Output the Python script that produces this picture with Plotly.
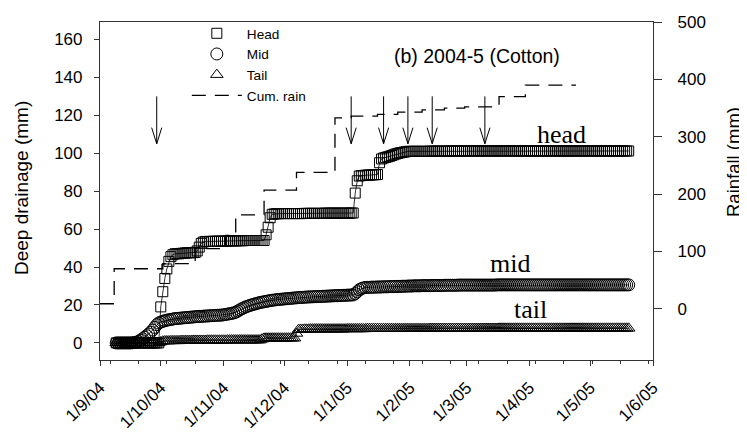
import pandas as pd
import plotly.graph_objects as go

# ---------------- data ----------------
start_day = "2004-09-09"
end_day = "2005-05-20"

head = [
    # Sep 9-30
    0, 0, 0, 0, 0, 0, 0, 0, 0, 0, 0, 0, 0, 0, 0, 0, 0, 0, 0, 0, 0, 0,
    # Oct
    19, 27, 34, 39, 43, 45.5, 46.5, 47, 47, 47, 47.2, 47.3, 47.4, 47.5, 47.5, 47.6,
    47.6, 47.7, 48.5, 50.5, 52.5, 53.2, 53.5, 53.5, 53.5, 53.5, 53.6, 53.6, 53.6, 53.6, 53.6,
    # Nov
    53.7, 53.7, 53.7, 53.8, 53.8, 53.8, 53.8, 53.9, 53.9, 53.9, 53.9, 54, 54, 54, 54,
    54, 54, 54, 54, 54, 54, 57, 61, 66, 67.8, 68, 68.1, 68.1, 68.2, 68.2,
    # Dec
    68.2, 68.2, 68.2, 68.2, 68.2, 68.2, 68.2, 68.2, 68.2, 68.2, 68.3, 68.3, 68.3, 68.3, 68.3, 68.3,
    68.3, 68.3, 68.3, 68.3, 68.4, 68.4, 68.4, 68.4, 68.4, 68.4, 68.4, 68.4, 68.4, 68.4, 68.4,
    # Jan
    68.4, 68.4, 68.5, 68.5, 79, 85.5, 88, 88.2, 88.3, 88.4, 88.5, 88.5, 88.6, 88.6, 88.7, 88.8,
    95, 97, 97.5, 97.8, 98.1, 98.4, 98.8, 99.2, 99.6, 99.9, 100.2, 100.4, 100.6, 100.8, 101.0,
    # Feb
    101.0, 101.0, 101.0, 101.0, 101.0, 101.0, 101.0, 101.0, 101.0, 101.0, 101.1, 101.1, 101.1, 101.1,
    101.1, 101.1, 101.1, 101.1, 101.1, 101.1, 101.2, 101.2, 101.2, 101.2, 101.2, 101.2, 101.2, 101.2,
    # Mar
    101.2, 101.2, 101.2, 101.2, 101.2, 101.2, 101.2, 101.2, 101.2, 101.2, 101.2, 101.2, 101.2, 101.2,
    101.2, 101.2, 101.2, 101.2, 101.2, 101.2, 101.2, 101.2, 101.2, 101.2, 101.2, 101.2, 101.2, 101.2,
    101.2, 101.2, 101.2,
    # Apr
    101.2, 101.2, 101.2, 101.2, 101.2, 101.2, 101.2, 101.2, 101.2, 101.2, 101.2, 101.2, 101.2, 101.2, 101.2,
    101.2, 101.2, 101.2, 101.2, 101.2, 101.2, 101.2, 101.2, 101.2, 101.2, 101.2, 101.2, 101.2, 101.2, 101.2,
    # May 1-20
    101.2, 101.2, 101.2, 101.2, 101.2, 101.2, 101.2, 101.2, 101.2, 101.2,
    101.2, 101.2, 101.2, 101.2, 101.2, 101.2, 101.2, 101.2, 101.2, 101.2,
]

mid = [
    # Sep 9-30
    0, 0, 0, 0, 0, 0, 0, 0, 0.1, 0.2, 0.4, 0.8, 1.5, 2.2, 3.0, 3.8, 4.7, 5.6, 6.8, 8.2, 9.6, 10.5,
    # Oct
    11.0, 11.4, 11.7, 12.0, 12.2, 12.4, 12.6, 12.8, 12.9, 13.0, 13.1, 13.2, 13.3, 13.4, 13.5, 13.6,
    13.7, 13.8, 13.9, 14.0, 14.0, 14.1, 14.2, 14.2, 14.3, 14.4, 14.4, 14.5, 14.6, 14.6, 14.7,
    # Nov
    14.8, 15.0, 15.2, 15.4, 15.6, 15.8, 16.2, 16.8, 17.4, 18.0, 18.5, 19.0, 19.4, 19.8, 20.1,
    20.4, 20.7, 21.0, 21.3, 21.5, 21.7, 21.9, 22.1, 22.3, 22.5, 22.6, 22.8, 22.9, 23.0, 23.1,
    # Dec
    23.2, 23.3, 23.4, 23.5, 23.6, 23.7, 23.8, 23.9, 24.0, 24.0, 24.1, 24.2, 24.2, 24.3, 24.3, 24.4,
    24.4, 24.5, 24.5, 24.6, 24.6, 24.7, 24.7, 24.8, 24.8, 24.9, 24.9, 25.0, 25.0, 25.1, 25.1,
    # Jan
    25.2, 25.2, 25.3, 25.3, 26.0, 27.0, 28.0, 28.6, 29.0, 29.2, 29.3, 29.3, 29.4, 29.4, 29.4, 29.5,
    29.5, 29.5, 29.6, 29.6, 29.6, 29.7, 29.7, 29.7, 29.8, 29.8, 29.8, 29.9, 29.9, 29.9, 30.0,
    # Feb
    30.0, 30.0, 30.1, 30.1, 30.1, 30.1, 30.2, 30.2, 30.2, 30.2, 30.2, 30.3, 30.3, 30.3,
    30.3, 30.3, 30.3, 30.4, 30.4, 30.4, 30.4, 30.4, 30.4, 30.4, 30.5, 30.5, 30.5, 30.5,
    # Mar
    30.5, 30.5, 30.5, 30.5, 30.5, 30.5, 30.5, 30.5, 30.5, 30.5, 30.5, 30.5, 30.5, 30.5, 30.5,
    30.6, 30.6, 30.6, 30.6, 30.6, 30.6, 30.6, 30.6, 30.6, 30.6, 30.6, 30.6, 30.6, 30.6, 30.6, 30.6,
    # Apr
    30.6, 30.6, 30.6, 30.6, 30.6, 30.6, 30.6, 30.6, 30.6, 30.6, 30.6, 30.6, 30.6, 30.6, 30.6,
    30.6, 30.6, 30.6, 30.6, 30.6, 30.6, 30.6, 30.6, 30.6, 30.6, 30.6, 30.6, 30.6, 30.6, 30.6,
    # May 1-20
    30.6, 30.6, 30.6, 30.6, 30.6, 30.6, 30.6, 30.6, 30.6, 30.6,
    30.6, 30.6, 30.6, 30.6, 30.6, 30.6, 30.6, 30.6, 30.6, 30.6,
]

tail = [
    # Sep 9-30
    0, 0, 0, 0, 0, 0, 0, 0, 0, 0, 0, 0, 0, 0, 0, 0, 0, 0, 0, 0, 0, 0,
    # Oct
    0.5, 0.9, 1.0, 1.0, 1.0, 1.1, 1.1, 1.1, 1.1, 1.1, 1.2, 1.2, 1.2, 1.2, 1.2, 1.2,
    1.3, 1.3, 1.3, 1.3, 1.3, 1.3, 1.3, 1.4, 1.4, 1.4, 1.4, 1.4, 1.4, 1.4, 1.4,
    # Nov
    1.4, 1.4, 1.5, 1.5, 1.5, 1.5, 1.5, 1.5, 1.5, 1.5, 1.5, 1.5, 1.5, 1.5, 1.5,
    1.5, 1.5, 1.5, 1.5, 2.0, 2.4, 2.5, 2.5, 2.5, 2.5, 2.5, 2.5, 2.5, 2.5, 2.5,
    # Dec
    2.5, 2.5, 2.5, 2.5, 2.5, 2.5, 5.0, 7.0, 7.1, 7.1, 7.2, 7.2, 7.2, 7.3, 7.3, 7.3,
    7.3, 7.3, 7.3, 7.3, 7.3, 7.3, 7.3, 7.3, 7.3, 7.3, 7.3, 7.3, 7.3, 7.3, 7.3,
    # Jan
    7.4, 7.4, 7.4, 7.4, 7.4, 7.4, 7.4, 7.4, 7.4, 7.4, 7.5, 7.5, 7.5, 7.5, 7.5, 7.5,
    7.5, 7.5, 7.5, 7.5, 7.5, 7.5, 7.5, 7.5, 7.5, 7.5, 7.5, 7.5, 7.5, 7.5, 7.5,
    # Feb
    7.5, 7.5, 7.5, 7.5, 7.5, 7.5, 7.5, 7.5, 7.5, 7.5, 7.6, 7.6, 7.6, 7.6,
    7.6, 7.6, 7.6, 7.6, 7.6, 7.6, 7.6, 7.6, 7.6, 7.6, 7.6, 7.6, 7.6, 7.6,
    # Mar
    7.6, 7.6, 7.6, 7.6, 7.6, 7.6, 7.6, 7.6, 7.6, 7.6, 7.6, 7.6, 7.6, 7.6, 7.6, 7.6,
    7.7, 7.7, 7.7, 7.7, 7.7, 7.7, 7.7, 7.7, 7.7, 7.7, 7.7, 7.7, 7.7, 7.7, 7.7,
    # Apr
    7.7, 7.7, 7.7, 7.7, 7.7, 7.7, 7.7, 7.7, 7.7, 7.7, 7.7, 7.7, 7.7, 7.7, 7.7,
    7.7, 7.7, 7.7, 7.7, 7.7, 7.7, 7.7, 7.7, 7.7, 7.7, 7.7, 7.7, 7.7, 7.7, 7.7,
    # May 1-20
    7.7, 7.7, 7.7, 7.7, 7.7, 7.7, 7.7, 7.7, 7.7, 7.7,
    7.7, 7.7, 7.7, 7.7, 7.7, 7.7, 7.7, 7.7, 7.7, 7.7,
]

rain_dates = ["2004-09-01", "2004-09-08", "2004-10-02", "2004-10-18", "2004-11-02",
              "2004-11-07", "2004-11-21", "2004-12-07", "2004-12-26", "2005-01-03",
              "2005-01-16", "2005-01-26", "2005-02-07", "2005-02-18", "2005-02-28",
              "2005-03-17", "2005-03-30", "2005-04-24"]
rain_cum = [9, 70, 79, 105, 128, 164, 207, 238, 333, 336, 339, 343, 347, 350, 352, 370, 390, 390]

irrigation_dates = ["2004-09-29", "2005-01-03", "2005-01-19", "2005-01-31", "2005-02-12", "2005-03-10"]
arrow_top = 130
arrow_bottom = 105

x_range = ["2004-09-01", "2005-06-01"]
y_range = [-9.0, 169.2]
y2_range = [-89, 500]

# ---------------- figure ----------------
days = pd.date_range(start_day, end_day, freq="D")
assert len(days) == len(head) == len(mid) == len(tail)

FONT = "Liberation Sans, Arial, sans-serif"
SERIF = "Liberation Serif, Times New Roman, serif"
AX = "#333333"

fig = go.Figure()

series = [
    ("Head", head, "square-open", 10),
    ("Mid", mid, "circle-open", 12),
    ("Tail", tail, "triangle-up-open", 11),
]
for name, vals, sym, size in series:
    fig.add_trace(go.Scatter(x=days, y=vals, mode="lines", line=dict(color="black", width=0.8),
                             showlegend=False, hoverinfo="skip"))
    fig.add_trace(go.Scatter(x=days, y=vals, mode="markers", name=name,
                             marker=dict(symbol=sym, size=size, color="black",
                                         line=dict(color="black", width=1.0))))

fig.add_trace(go.Scatter(x=pd.to_datetime(rain_dates), y=rain_cum, mode="lines", name="Cum. rain",
                         yaxis="y2", line=dict(color="black", width=1.3, dash="14px,9px", shape="hv")))

# irrigation arrows (shaft + open V head)
half = pd.Timedelta(hours=60)
head_len = 8.5
ax_x, ax_y = [], []
for d in pd.to_datetime(irrigation_dates):
    ax_x += [d, d, None, d - half, d, d + half, None]
    ax_y += [arrow_top, arrow_bottom, None, arrow_bottom + head_len, arrow_bottom,
             arrow_bottom + head_len, None]
fig.add_trace(go.Scatter(x=ax_x, y=ax_y, mode="lines", line=dict(color="black", width=1),
                         showlegend=False, hoverinfo="skip"))


def label(text, x, y, family, size, angle=0):
    return dict(text=text, x=x, y=y, xref="paper", yref="paper", xanchor="center",
                yanchor="middle", textangle=angle, showarrow=False,
                font=dict(family=family, size=size, color="black"))


annotations = [
    label("(b) 2004-5 (Cotton)", 0.6826, 0.898, FONT, 19.5),
    label("head", 0.8349, 0.6658, SERIF, 26),
    label("mid", 0.7414, 0.2857, SERIF, 26),
    label("tail", 0.7776, 0.1482, SERIF, 26),
    label("Deep drainage (mm)", -0.141, 0.509, FONT, 19, -90),
    label("Rainfall (mm)", 1.146, 0.585, FONT, 18.5, -90),
]

# the page body adds an 8px offset, so the figure is 8px smaller and margins shifted
fig.update_layout(
    template="none",
    width=739, height=427,
    margin=dict(l=92, r=94, t=10, b=75, pad=0),
    paper_bgcolor="white", plot_bgcolor="white",
    font=dict(family=FONT, size=17, color="black"),
    showlegend=True,
    legend=dict(x=0.157, y=1.012, xanchor="left", yanchor="top", bgcolor="rgba(0,0,0,0)",
                font=dict(family=FONT, size=13.6, color="black"), itemwidth=50,
                tracegroupgap=0, borderwidth=0),
    annotations=annotations,
    xaxis=dict(type="date", range=x_range, tick0="2004-09-01", dtick="M1", automargin=False,
               tickformat="%-d/%-m/%y", tickangle=-45, ticks="outside", ticklen=5,
               tickcolor=AX, showline=True, linecolor=AX, linewidth=1.2, mirror=True,
               showgrid=False, zeroline=False, tickfont=dict(size=17), ticklabelstandoff=5,
               minor=dict(dtick=14 * 86400000, tick0="2004-09-06", ticks="outside",
                          ticklen=3, tickcolor=AX, showgrid=False)),
    yaxis=dict(range=y_range, tickvals=list(range(0, 161, 20)), automargin=False,
               ticks="outside", ticklen=5, tickcolor=AX, showline=True, linecolor=AX,
               linewidth=1.2, showgrid=False, zeroline=False, tickfont=dict(size=17),
               ticklabelstandoff=8),
    yaxis2=dict(range=y2_range, overlaying="y", side="right", tickvals=list(range(0, 501, 100)),
                automargin=False, ticks="outside", ticklen=8, tickcolor=AX, showline=True,
                linecolor=AX, linewidth=1.2, showgrid=False, zeroline=False,
                tickfont=dict(size=17), ticklabelstandoff=12),
)

fig.write_html("out.html")
